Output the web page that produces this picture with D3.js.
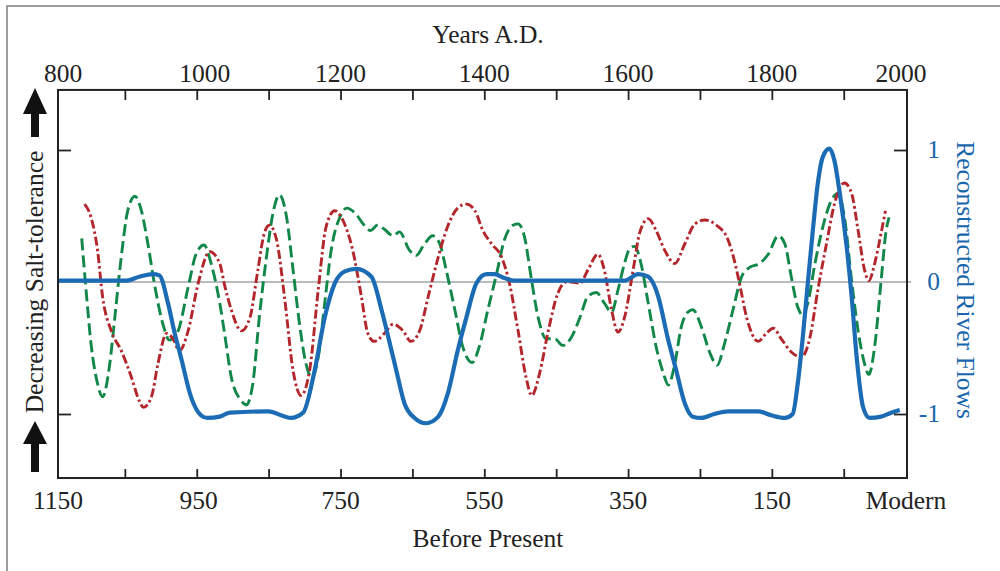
<!DOCTYPE html>
<html>
<head>
<meta charset="utf-8">
<script src="https://cdn.jsdelivr.net/npm/d3@7"></script>
<style>
  html, body { margin: 0; padding: 0; background: #fff; }
  svg { display: block; }
  text { font-family: "Liberation Serif", "Times New Roman", serif; }
</style>
</head>
<body>
<svg id="chart" width="1000" height="571"></svg>
<script>
// ---- Data (x = years A.D., y = standardized value) ----
const topTickLabels = [800, 1000, 1200, 1400, 1600, 1800, 2000];           // Years A.D.
const bottomTickLabels = ["1150", "950", "750", "550", "350", "150", "Modern"]; // Before Present
const bottomTickBP = [1150, 950, 750, 550, 350, 150, -50];
const minorTicksAD = [900, 1000, 1100, 1200, 1300, 1400, 1500, 1600, 1700, 1800, 1900];
const rightTickValues = [1, 0, -1];
const leftTickValues = [1, -1];

// Reconstructed river flows (blue, solid)
const riverFlows = [[806,0.01],[902,0.01],[920,0.04],[939,0.06],[948,0.05],[960,-0.16],[969,-0.38],[978,-0.57],[992,-0.87],[1006,-1.01],[1015,-1.03],[1032,-1.02],[1046,-0.99],[1099,-0.98],[1131,-1.03],[1148,-0.99],[1164,-0.67],[1178,-0.27],[1192,-0.01],[1206,0.08],[1222,0.10],[1243,0.04],[1257,-0.21],[1271,-0.52],[1278,-0.68],[1289,-0.92],[1303,-1.03],[1319,-1.07],[1336,-1.02],[1349,-0.85],[1363,-0.52],[1375,-0.27],[1389,-0.01],[1403,0.06],[1414,0.06],[1428,0.03],[1442,0.01],[1595,0.01],[1614,0.06],[1628,0.04],[1642,-0.11],[1655,-0.42],[1667,-0.67],[1679,-0.92],[1690,-1.02],[1702,-1.03],[1720,-1.0],[1739,-0.98],[1781,-0.98],[1799,-1.01],[1818,-1.03],[1829,-1.0],[1836,-0.77],[1843,-0.42],[1850,-0.01],[1857,0.39],[1864,0.75],[1871,0.95],[1880,1.01],[1887,0.92],[1894,0.69],[1904,0.27],[1911,-0.11],[1918,-0.57],[1927,-0.95],[1936,-1.03],[1952,-1.02],[1966,-0.99],[1978,-0.97]];

// Salt-tolerance record 1 (red, dash-dot)
const saltRed = [[844,0.59],[853,0.49],[862,0.24],[869,-0.11],[881,-0.37],[895,-0.52],[909,-0.72],[920,-0.90],[926,-0.95],[937,-0.87],[946,-0.62],[958,-0.39],[967,-0.43],[976,-0.52],[988,-0.37],[1002,-0.01],[1018,0.23],[1032,0.14],[1039,-0.03],[1048,-0.21],[1062,-0.37],[1074,-0.27],[1085,0.09],[1094,0.37],[1101,0.43],[1111,0.32],[1122,-0.11],[1134,-0.67],[1145,-0.86],[1157,-0.67],[1169,-0.06],[1180,0.42],[1192,0.54],[1203,0.47],[1217,0.24],[1229,-0.11],[1238,-0.39],[1247,-0.45],[1261,-0.39],[1273,-0.32],[1287,-0.37],[1298,-0.45],[1310,-0.37],[1322,-0.11],[1336,0.19],[1349,0.42],[1363,0.56],[1375,0.59],[1387,0.54],[1398,0.39],[1410,0.29],[1424,0.19],[1435,-0.01],[1447,-0.37],[1458,-0.72],[1466,-0.86],[1477,-0.69],[1489,-0.37],[1502,-0.09],[1514,0.0],[1521,0.0],[1533,-0.01],[1544,0.09],[1558,0.21],[1567,0.09],[1577,-0.21],[1586,-0.38],[1595,-0.27],[1607,0.09],[1616,0.37],[1628,0.48],[1639,0.39],[1651,0.24],[1665,0.14],[1679,0.29],[1693,0.44],[1707,0.47],[1723,0.43],[1739,0.32],[1748,0.16],[1755,-0.01],[1765,-0.27],[1781,-0.45],[1792,-0.39],[1802,-0.35],[1813,-0.43],[1827,-0.53],[1841,-0.57],[1853,-0.42],[1864,-0.06],[1876,0.29],[1887,0.59],[1901,0.75],[1911,0.67],[1920,0.39],[1929,0.09],[1935,0.01],[1943,0.14],[1952,0.37],[1958,0.54]];

// Salt-tolerance record 2 (green, dashed)
const saltGreen = [[840,0.33],[846,-0.06],[853,-0.47],[862,-0.77],[869,-0.87],[879,-0.62],[886,-0.27],[895,0.19],[904,0.54],[914,0.65],[923,0.54],[932,0.29],[941,-0.01],[953,-0.32],[962,-0.44],[974,-0.37],[988,-0.04],[999,0.21],[1010,0.28],[1020,0.14],[1032,-0.16],[1039,-0.40],[1048,-0.72],[1062,-0.90],[1069,-0.93],[1078,-0.77],[1087,-0.27],[1097,0.19],[1106,0.52],[1115,0.66],[1125,0.49],[1134,0.09],[1143,-0.32],[1152,-0.62],[1160,-0.72],[1169,-0.57],[1178,-0.16],[1187,0.24],[1199,0.49],[1209,0.56],[1222,0.51],[1233,0.43],[1242,0.39],[1251,0.43],[1261,0.40],[1273,0.35],[1282,0.38],[1296,0.24],[1305,0.20],[1317,0.29],[1328,0.35],[1338,0.29],[1347,0.09],[1359,-0.21],[1370,-0.49],[1383,-0.61],[1393,-0.49],[1405,-0.21],[1417,0.06],[1428,0.32],[1440,0.43],[1447,0.44],[1456,0.34],[1465,0.04],[1475,-0.27],[1486,-0.43],[1498,-0.43],[1509,-0.48],[1521,-0.42],[1533,-0.27],[1544,-0.11],[1556,-0.08],[1567,-0.16],[1577,-0.23],[1586,-0.06],[1595,0.14],[1602,0.25],[1609,0.27],[1618,0.14],[1628,-0.16],[1639,-0.49],[1649,-0.69],[1656,-0.78],[1665,-0.62],[1674,-0.34],[1683,-0.23],[1690,-0.21],[1702,-0.34],[1714,-0.54],[1724,-0.63],[1734,-0.47],[1746,-0.21],[1758,0.04],[1769,0.11],[1783,0.14],[1795,0.21],[1809,0.35],[1818,0.29],[1827,0.04],[1836,-0.19],[1843,-0.25],[1850,-0.16],[1860,0.14],[1871,0.42],[1883,0.62],[1892,0.67],[1901,0.49],[1911,0.01],[1920,-0.37],[1929,-0.62],[1935,-0.70],[1943,-0.49],[1952,0.01],[1959,0.39],[1963,0.49]];

// ---- Layout ----
const svg = d3.select("#chart");
const W = 1000, H = 571;
const xDomain = [807, 1988];
const x = d3.scaleLinear().domain(xDomain).range([58, 907]);
const y = d3.scaleLinear().domain([-1, 1]).range([414, 150]);
const yTop = y(1.455), yBot = y(-1.485);
const left = x.range()[0], right = x.range()[1];

const BLUE = "#1b6cb5", RED = "#b3262c", GREEN = "#12874a", BLUE_TXT = "#1866ad";
const fontSize = 25.5;

// outer frame
svg.append("rect").attr("x", 7).attr("y", 6).attr("width", W + 20).attr("height", H + 20)
  .attr("fill", "none").attr("stroke", "#7d7d7d").attr("stroke-width", 1.5);

// zero line
svg.append("line").attr("x1", left).attr("x2", right + 4).attr("y1", y(0)).attr("y2", y(0))
  .attr("stroke", "#a2a6aa").attr("stroke-width", 1.6);

// series
const line = d3.line().x(d => x(d[0])).y(d => y(d[1])).curve(d3.curveMonotoneX);
svg.append("path").datum(saltGreen).attr("d", line).attr("fill", "none")
  .attr("stroke", GREEN).attr("stroke-width", 2.9).attr("stroke-dasharray", "12,5");
svg.append("path").datum(saltRed).attr("d", line).attr("fill", "none")
  .attr("stroke", RED).attr("stroke-width", 2.9).attr("stroke-dasharray", "9,3,2.5,3");
svg.append("path").datum(riverFlows).attr("d", line).attr("fill", "none")
  .attr("stroke", BLUE).attr("stroke-width", 4.2).attr("stroke-linejoin", "round");

// plot frame
svg.append("rect").attr("x", left).attr("y", yTop).attr("width", right - left).attr("height", yBot - yTop)
  .attr("fill", "none").attr("stroke", "#222").attr("stroke-width", 2);

// top axis (Years A.D.) inward ticks
const topAxis = d3.axisBottom(x).tickValues(minorTicksAD).tickSize(10).tickFormat("");
svg.append("g").attr("transform", `translate(0,${yTop})`).call(topAxis)
  .call(g => { g.select(".domain").remove(); g.selectAll("line").attr("stroke", "#222").attr("stroke-width", 1.8); });
// bottom axis (Before Present) inward ticks
const botAxis = d3.axisTop(x).tickValues(minorTicksAD).tickSize(9).tickFormat("");
svg.append("g").attr("transform", `translate(0,${yBot})`).call(botAxis)
  .call(g => { g.select(".domain").remove(); g.selectAll("line").attr("stroke", "#222").attr("stroke-width", 1.8); });
// left ticks
const leftAxis = d3.axisRight(y).tickValues(leftTickValues).tickSize(13).tickFormat("");
svg.append("g").attr("transform", `translate(${left},0)`).call(leftAxis)
  .call(g => { g.select(".domain").remove(); g.selectAll("line").attr("stroke", "#222").attr("stroke-width", 1.8); });
// right ticks
const rightAxis = d3.axisLeft(y).tickValues(leftTickValues).tickSize(13).tickFormat("");
svg.append("g").attr("transform", `translate(${right},0)`).call(rightAxis)
  .call(g => { g.select(".domain").remove(); g.selectAll("line").attr("stroke", "#222").attr("stroke-width", 1.8); });

// top labels
const clampX = v => Math.max(left + 5, Math.min(right - 6, x(v)));
svg.append("g").selectAll("text").data(topTickLabels).join("text")
  .attr("x", d => clampX(d) + (d === 1000 ? 8 : 0)).attr("y", 82)
  .attr("text-anchor", "middle").attr("font-size", fontSize).attr("fill", "#222").text(d => d);
svg.append("text").attr("x", 488).attr("y", 43).attr("text-anchor", "middle")
  .attr("font-size", fontSize).attr("fill", "#222").text("Years A.D.");

// bottom labels
const clampB = v => Math.max(left, Math.min(right - 1, x(1950 - v)));
svg.append("g").selectAll("text").data(bottomTickBP).join("text")
  .attr("x", d => clampB(d) + (d === 950 ? 2 : 0)).attr("y", 509)
  .attr("text-anchor", "middle").attr("font-size", fontSize).attr("fill", "#222")
  .text((d, i) => bottomTickLabels[i]);
svg.append("text").attr("x", 488).attr("y", 547).attr("text-anchor", "middle")
  .attr("font-size", fontSize).attr("fill", "#222").text("Before Present");

// right labels
svg.append("g").selectAll("text").data(rightTickValues).join("text")
  .attr("x", 940).attr("y", d => y(d)).attr("dy", "0.33em")
  .attr("text-anchor", "end").attr("font-size", fontSize).attr("fill", BLUE_TXT)
  .text(d => d === -1 ? "-1" : d);
svg.append("text").attr("transform", `translate(957,${y(0) - 2}) rotate(90)`)
  .attr("text-anchor", "middle").attr("font-size", fontSize).attr("fill", BLUE_TXT)
  .text("Reconstructed River Flows");

// left title + arrows
svg.append("text").attr("transform", `translate(43,${y(0)}) rotate(-90)`)
  .attr("text-anchor", "middle").attr("font-size", fontSize).attr("fill", "#222")
  .text("Decreasing Salt-tolerance");
function arrow(cx, tip, headBase, end) {
  return `M${cx},${tip} L${cx + 12},${headBase} L${cx + 4},${headBase} L${cx + 4},${end} L${cx - 4},${end} L${cx - 4},${headBase} L${cx - 12},${headBase} Z`;
}
svg.append("path").attr("d", arrow(35, 88, 114, 137)).attr("fill", "#111");
svg.append("path").attr("d", arrow(35, 421, 444, 472)).attr("fill", "#111");
</script>
</body>
</html>
